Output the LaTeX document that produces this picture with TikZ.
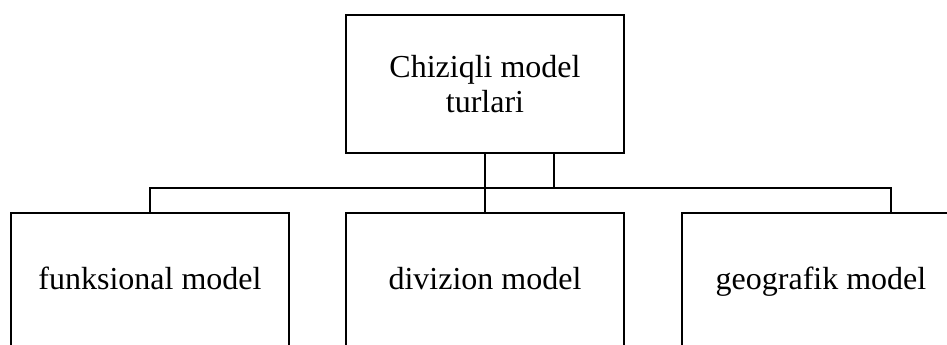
\documentclass[tikz,border=0pt]{standalone}
\usepackage{fontspec}
\setmainfont{Liberation Serif}
\begin{document}
\begin{tikzpicture}[x=1pt,y=-1pt,
	modelbox/.style={
		draw,line width=2pt,minimum width=278pt,minimum height=138pt,
		inner sep=0pt,align=center,font=\fontsize{32}{35}\selectfont
	}]
	\useasboundingbox (0,0) rectangle (947,345);
	\clip (0,0) rectangle (947,345);
	\tikzstyle{link} = [line width=2pt]

	\node[modelbox] (turlar) at (485,84) {Chiziqli model\\turlari};
	\node[modelbox] (funk) at (150,282) {\strut funksional model};
	\node[modelbox] (div) at (485,282) {\strut divizion model};
	\node[modelbox] (geo) at (821,282) {\strut geografik model};

	\coordinate (geodrop) at (891,188);
	\coordinate (side) at (554,188);

	\draw[link] (turlar.south) -- (div.north);
	\draw[link] (funk.north) |- (geodrop) -- (geodrop |- geo.north);
	\draw[link] (side) -- (side |- turlar.south);
\end{tikzpicture}
\end{document}
